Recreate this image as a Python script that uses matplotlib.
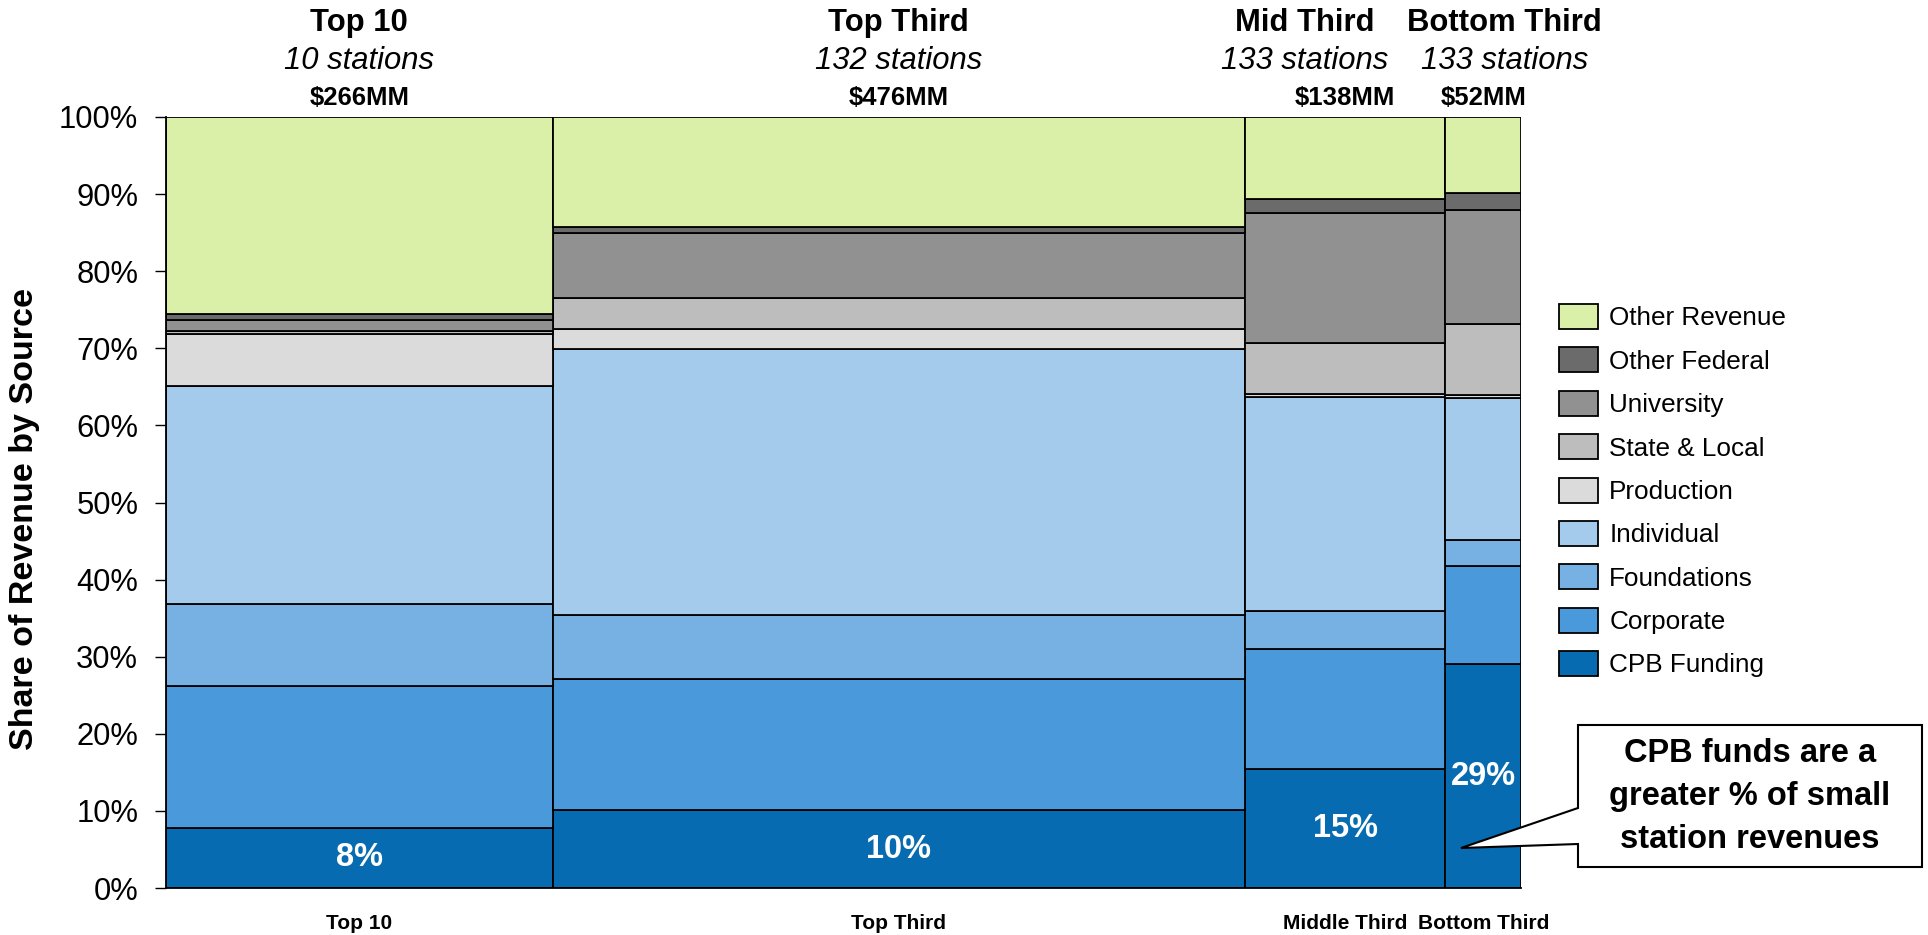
import matplotlib
matplotlib.use("Agg")
import matplotlib.pyplot as plt
import matplotlib.transforms as mtransforms
from matplotlib.patches import Polygon
import numpy as np

plt.rcParams['font.family'] = ['Liberation Sans', 'DejaVu Sans']

# ---------------- data ----------------
groups = ["Top 10", "Top Third", "Mid Third", "Bottom Third"]
bottom_labels = ["Top 10", "Top Third", "Middle Third", "Bottom Third"]
stations = ["10 stations", "132 stations", "133 stations", "133 stations"]
revenue_mm = [266, 476, 138, 52]

series_names = ["CPB Funding", "Corporate", "Foundations", "Individual", "Production",
                "State & Local", "University", "Other Federal", "Other Revenue"]
cpb          = [7.8, 10.1, 15.4, 29.0]
corporate    = [18.4, 17.0, 15.6, 12.8]
foundations  = [10.6, 8.3, 4.9, 3.3]
individual   = [28.3, 34.5, 27.8, 18.5]
production   = [6.8, 2.6, 0.4, 0.4]
state_local  = [0.4, 4.0, 6.6, 9.1]
university   = [1.4, 8.4, 16.9, 14.8]
other_fed    = [0.8, 0.8, 1.7, 2.3]
other_rev    = [25.5, 14.3, 10.7, 9.8]

yticks = [0, 10, 20, 30, 40, 50, 60, 70, 80, 90, 100]
callout_text = "CPB funds are a\ngreater % of small\nstation revenues"

# ---------------- style ----------------
colors = ["#066BB0", "#4A99DB", "#77B0E2", "#A4CBEC", "#DBDBDB",
          "#BDBDBD", "#919191", "#6B6B6B", "#DAF0A8"]
series = [cpb, corporate, foundations, individual, production,
          state_local, university, other_fed, other_rev]

W, H = 1928, 935
fig = plt.figure(figsize=(W / 100, H / 100), dpi=100)
ax = fig.add_axes([166 / W, 1 - 888 / H, (1521 - 166) / W, (888 - 117) / H])

widths = np.array(revenue_mm, dtype=float)
lefts = np.concatenate([[0], np.cumsum(widths)[:-1]])
centers = lefts + widths / 2

bottoms = np.zeros(len(groups))
for name, vals, col in zip(series_names, series, colors):
    vals = np.array(vals)
    ax.bar(lefts, vals, width=widths, bottom=bottoms, align='edge', color=col,
           edgecolor='black', linewidth=1.3, label=name, zorder=2)
    bottoms += vals

# CPB percentages
for c, v in zip(centers, cpb):
    ax.text(c, v / 2, f"{v:.0f}%", ha='center', va='center', color='white',
            fontsize=23.5, fontweight='bold', zorder=3)

ax.set_xlim(0, widths.sum())
ax.set_ylim(0, 100)
ax.set_yticks(yticks)
ax.set_yticklabels([f"{t}%" for t in yticks], fontsize=22.2)
ax.tick_params(axis='y', length=8, width=1, pad=12, direction='out')
ax.set_xticks(centers)
ax.set_xticklabels(bottom_labels, fontsize=15, fontweight='bold')
ax.tick_params(axis='x', length=0, pad=19)
for s in ['top', 'right']:
    ax.spines[s].set_visible(False)
ax.spines['left'].set_linewidth(1.3)
ax.spines['bottom'].set_linewidth(1.3)
fig.text(25 / W, 1 - 519 / H, "Share of Revenue by Source", rotation=90,
         ha='center', va='center', fontsize=24.5, fontweight='bold')

# headers above columns
blend = mtransforms.blended_transform_factory(ax.transData, fig.transFigure)
name_offsets_px = [0, 0, -40, 21]
for c, g, st, mm, off in zip(centers, groups, stations, revenue_mm, name_offsets_px):
    tr = mtransforms.offset_copy(blend, fig=fig, x=off, y=0, units='dots')
    ax.text(c, 1 - 23 / H, g, transform=tr, ha='center', va='center',
            fontsize=22.3, fontweight='bold')
    ax.text(c, 1 - 61 / H, st, transform=tr, ha='center', va='center',
            fontsize=22.3, fontstyle='italic')
    ax.text(c, 1 - 98 / H, f"${mm}MM", transform=blend, ha='center', va='center',
            fontsize=18.5, fontweight='bold')

# legend
handles, labels = ax.get_legend_handles_labels()
leg = fig.legend(handles[::-1], labels[::-1], loc='upper left',
                 bbox_to_anchor=(1559 / W, 1 - 304 / H), frameon=False,
                 fontsize=18.8, handlelength=1.5, handleheight=1.1,
                 labelspacing=0.65, handletextpad=0.42, borderpad=0, borderaxespad=0)

# callout
pts_px = [(1578, 725), (1922, 725), (1922, 867), (1578, 867),
          (1578, 844), (1461, 848), (1578, 808)]
pts = [(x / W, 1 - y / H) for x, y in pts_px]
poly = Polygon(pts, closed=True, facecolor='white', edgecolor='black',
               linewidth=1.5, transform=fig.transFigure, zorder=5)
fig.add_artist(poly)
fig.text(1750 / W, 1 - 797 / H, callout_text, ha='center', va='center',
         fontsize=23.5, fontweight='bold', linespacing=1.5, zorder=6)

fig.savefig("out.png", dpi=100)
